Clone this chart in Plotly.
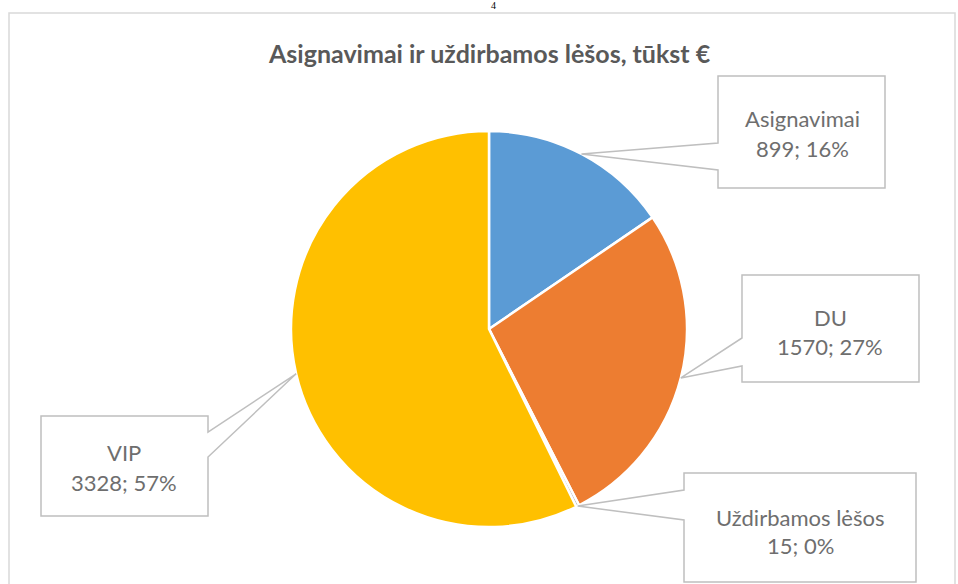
import math
import plotly.graph_objects as go

# ---- data ----
categories = ["Asignavimai", "DU", "Uždirbamos lėšos", "VIP"]
values = [899, 1570, 15, 3328]
pct_labels = ["16%", "27%", "0%", "57%"]
colors = ["#5B9BD5", "#ED7D31", "#A5A5A5", "#FFC000"]
title_text = "Asignavimai ir uždirbamos lėšos, tūkst €"

W, H = 958, 584
CX, CY, R = 489, 329, 198  # pie centre / radius in pixels


def px(x):
    return x / W


def py(y):
    return 1 - y / H


fig = go.Figure()
fig.add_trace(go.Pie(
    labels=categories,
    values=values,
    sort=False,
    direction="clockwise",
    rotation=0,
    marker=dict(colors=colors, line=dict(color="white", width=2.5)),
    textinfo="none",
    hoverinfo="label+value+percent",
    showlegend=False,
    domain=dict(x=[px(CX - R), px(CX + R)], y=[py(CY + R), py(CY - R)]),
))

# label boxes (pixel layout): x0, y0, x1, y1, callout side, base y1, base y2, text centre x, line ys
boxes = [
    (718, 76, 885, 188, "left", 143, 170, 802, (119, 148)),
    (742, 275, 919, 382, "left", 338, 366, 830, (317, 346)),
    (684, 473, 916, 582, "left", 490, 520, 800, (517, 545)),
    (41, 416, 208, 516, "right", 432, 457, 124, (452, 482)),
]

total = sum(values)
cum = 0
shapes = []
annotations = []
label_font = dict(family="Lato, Open Sans, sans-serif", size=22, color="#6E6E6E")
for i, (cat, val, pct) in enumerate(zip(categories, values, pct_labels)):
    mid = (cum + val / 2) / total * 2 * math.pi
    cum += val
    tx = CX + R * math.sin(mid)
    ty = CY - R * math.cos(mid)
    x0, y0, x1, y1, side, b1, b2, tcx, (l1, l2) = boxes[i]
    if side == "left":
        pts = [(x0, y0), (x1, y0), (x1, y1), (x0, y1), (x0, b2), (tx, ty), (x0, b1)]
    else:
        pts = [(x0, y0), (x1, y0), (x1, b1), (tx, ty), (x1, b2), (x1, y1), (x0, y1)]
    path = "M " + " L ".join(f"{px(a):.5f},{py(b):.5f}" for a, b in pts) + " Z"
    shapes.append(dict(type="path", xref="paper", yref="paper", path=path,
                       fillcolor="white", line=dict(color="#BFBFBF", width=1.5)))
    annotations.append(dict(x=px(tcx), y=py(l1), xref="paper", yref="paper",
                            text=cat, showarrow=False, xanchor="center", yanchor="middle",
                            font=label_font))
    annotations.append(dict(x=px(tcx), y=py(l2), xref="paper", yref="paper",
                            text=f"{val}; {pct}", showarrow=False, xanchor="center",
                            yanchor="middle", font=label_font))

# chart border
shapes.insert(0, dict(type="rect", xref="paper", yref="paper",
                      x0=px(9), y0=py(600), x1=px(955), y1=py(13),
                      line=dict(color="#D9D9D9", width=1.5), fillcolor="rgba(0,0,0,0)"))

# title
annotations.append(dict(x=px(489), y=py(53), xref="paper", yref="paper",
                        text=f"<b>{title_text}</b>", showarrow=False,
                        xanchor="center", yanchor="middle",
                        font=dict(family="Lato, Open Sans, sans-serif", size=25, color="#595959")))
# page number above the chart
annotations.append(dict(x=px(493), y=py(12), xref="paper", yref="paper",
                        text="4", showarrow=False, xanchor="center", yanchor="bottom",
                        borderpad=0,
                        font=dict(family="Liberation Serif, serif", size=10, color="#000000")))

fig.update_layout(
    width=W, height=H,
    margin=dict(l=0, r=0, t=0, b=0),
    paper_bgcolor="white",
    plot_bgcolor="white",
    shapes=shapes,
    annotations=annotations,
)

fig.write_html("out.html")
